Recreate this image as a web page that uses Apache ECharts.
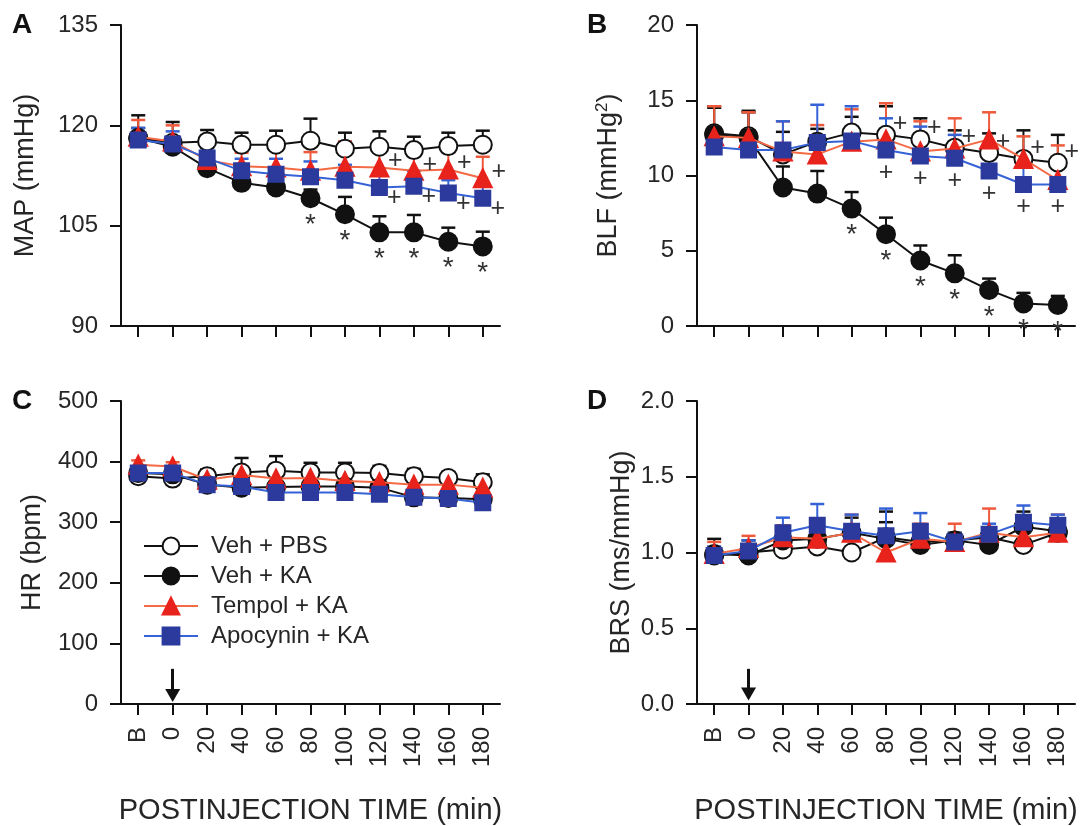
<!DOCTYPE html>
<html><head><meta charset="utf-8">
<script src="https://cdn.jsdelivr.net/npm/echarts@6/dist/echarts.min.js"></script>
<style>html,body{margin:0;padding:0;background:#fff}#c{width:1085px;height:826px}</style>
</head><body><div id="c"></div>
<script>
const categories = ['B','0','20','40','60','80','100','120','140','160','180'];
const seriesNames = ['Veh + PBS','Veh + KA','Tempol + KA','Apocynin + KA'];

// Panel A: MAP (mmHg)
const mapPBS     = [118.1,117.4,117.6,117.1,117.1,117.7,116.5,116.8,116.3,116.9,117.1];
const mapPBSsem  = [3.4,3.1,1.7,1.8,2.1,3.3,2.4,2.3,2.0,2.0,2.1];
const mapKA      = [118.1,116.8,113.6,111.4,110.7,109.1,106.7,104.0,104.0,102.6,101.9];
const mapKAsem   = [1.5,1.5,1.0,1.0,1.0,1.3,2.6,2.4,2.6,2.1,2.2];
const mapTEM     = [118.3,117.6,114.8,113.9,113.7,113.2,113.8,113.7,113.2,113.4,112.1];
const mapTEMsem  = [2.5,2.4,2.6,2.0,2.7,2.8,3.8,3.3,3.8,4.2,3.2];
const mapAPO     = [117.8,117.2,115.1,113.2,112.7,112.3,111.8,110.7,110.9,109.9,109.1];
const mapAPOsem  = [1.8,1.9,1.5,1.8,2.3,2.3,2.3,2.0,2.3,1.9,2.0];
const mapStarKA  = [0,0,0,0,0,1,1,1,1,1,1];
const mapPlusTEM = [0,0,0,0,0,0,0,1,1,1,1];
const mapPlusAPO = [0,0,0,0,0,0,0,1,1,1,1];

// Panel B: BLF (mmHg^2)
const blfPBS     = [12.8,12.6,11.4,12.25,12.85,12.7,12.4,11.85,11.5,11.1,10.85];
const blfPBSsem  = [1.8,1.7,1.5,0.85,1.05,1.9,1.4,1.15,1.3,1.9,1.85];
const blfKA      = [12.7,12.5,9.2,8.8,7.8,6.1,4.35,3.5,2.4,1.5,1.4];
const blfKAsem   = [1.8,1.7,1.4,1.5,1.1,1.1,1.0,1.2,0.75,0.7,0.6];
const blfTEM     = [12.6,12.5,11.6,11.4,12.25,12.4,11.6,11.8,12.4,11.1,9.7];
const blfTEMsem  = [2.0,1.7,2.0,1.95,2.15,2.4,2.0,2.0,1.8,1.5,2.3];
const blfAPO     = [11.9,11.7,11.7,12.2,12.3,11.7,11.3,11.15,10.3,9.4,9.4];
const blfAPOsem  = [1.0,1.3,1.9,2.5,2.3,2.1,1.95,1.55,1.5,1.4,1.4];
const blfStarKA  = [0,0,0,0,1,1,1,1,1,1,1];
const blfPlusPBS = [0,0,0,0,0,1,1,1,1,1,1];
const blfPlusAPO = [0,0,0,0,0,1,1,1,1,1,1];

// Panel C: HR (bpm)
const hrPBS     = [376,372,376,382,385,382,382,381,376,373,366];
const hrPBSsem  = [15,15,11,24,24,16,16,12,12,10,13];
const hrKA      = [381,379,362,357,358,359,359,357,341,340,338];
const hrKAsem   = [8,8,8,8,8,8,8,8,8,8,8];
const hrTEM     = [395,392,370,378,372,373,368,366,362,362,357];
const hrTEMsem  = [7,7,8,9,5,6,6,6,8,8,16];
const hrAPO     = [381,381,362,359,349,349,349,346,341,339,332];
const hrAPOsem  = [8,8,8,8,8,8,8,8,8,8,8];
const hrArrow   = [58, 14];

// Panel D: BRS (ms/mmHg)
const brsPBS    = [0.98,1.0,1.02,1.04,1.0,1.1,1.07,1.08,1.1,1.05,1.13];
const brsPBSsem = [0.03,0.03,0.03,0.03,0.03,0.1,0.03,0.03,0.03,0.03,0.03];
const brsKA     = [0.99,0.98,1.08,1.09,1.13,1.09,1.05,1.08,1.05,1.17,1.14];
const brsKAsem  = [0.1,0.1,0.05,0.05,0.1,0.18,0.05,0.05,0.1,0.1,0.05];
const brsTEM    = [0.99,1.03,1.1,1.09,1.13,1.0,1.09,1.07,1.13,1.1,1.13];
const brsTEMsem = [0.08,0.08,0.08,0.08,0.12,0.12,0.1,0.12,0.16,0.1,0.12];
const brsAPO    = [0.98,1.01,1.13,1.18,1.14,1.11,1.14,1.07,1.12,1.2,1.18];
const brsAPOsem = [0.06,0.07,0.1,0.14,0.11,0.18,0.12,0.06,0.07,0.11,0.07];
const brsArrow  = [0.232, 0.066];

const FONT = "'Liberation Sans', Arial, sans-serif";
const TXT = '#262626';
const AX = '#111';

const styles = [
  {symbol:'circle',   size:18, fill:'#ffffff', border:'#111111', line:'#111111', err:'#111111'},
  {symbol:'circle',   size:18, fill:'#111111', border:'#111111', line:'#111111', err:'#111111'},
  {symbol:'triangle', size:18, fill:'#E8231C', border:'#E8231C', line:'#F36A45', err:'#F05A3C'},
  {symbol:'rect',     size:15, fill:'#2B3A9C', border:'#2B3A9C', line:'#3563D6', err:'#3563D6'}
];

const markStyles = {
  star:      {formatter:'*', position:'inside', offset:[0,27], fontSize:28},
  plusUR:    {formatter:'+', position:'inside', offset:[16,-6], fontSize:25},
  plusDR:    {formatter:'+', position:'inside', offset:[15,11], fontSize:25},
  plusUR2:   {formatter:'+', position:'inside', offset:[14,-11], fontSize:25},
  plusBelow: {formatter:'+', position:'inside', offset:[0,23], fontSize:25}
};

const panels = [
  {grid:{left:121, top:25, width:379, height:301}, y:{min:90, max:135, interval:15, name:'MAP (mmHg)', gap:82},
   means:[mapPBS,mapKA,mapTEM,mapAPO], sems:[mapPBSsem,mapKAsem,mapTEMsem,mapAPOsem],
   marks:[null,[mapStarKA,'star'],[mapPlusTEM,'plusUR'],[mapPlusAPO,'plusDR']], xLabels:false},
  {grid:{left:697, top:25, width:378, height:301}, y:{min:0, max:20, interval:5, name:'BLF (mmHg{s|2})', gap:74},
   means:[blfPBS,blfKA,blfTEM,blfAPO], sems:[blfPBSsem,blfKAsem,blfTEMsem,blfAPOsem],
   marks:[[blfPlusPBS,'plusUR2'],[blfStarKA,'star'],null,[blfPlusAPO,'plusBelow']], xLabels:false},
  {grid:{left:121, top:401, width:379, height:305}, y:{min:0, max:500, interval:100, name:'HR (bpm)', gap:75},
   means:[hrPBS,hrKA,hrTEM,hrAPO], sems:[hrPBSsem,hrKAsem,hrTEMsem,hrAPOsem],
   marks:[null,null,null,null], xLabels:true, arrow:hrArrow},
  {grid:{left:697, top:401, width:378, height:305}, y:{min:0, max:2, interval:0.5, name:'BRS (ms/mmHg)', fmt:v=>v.toFixed(1), gap:62},
   means:[brsPBS,brsKA,brsTEM,brsAPO], sems:[brsPBSsem,brsKAsem,brsTEMsem,brsAPOsem],
   marks:[null,null,null,null], xLabels:true, arrow:brsArrow}
];

const grids = [], xAxes = [], yAxes = [], series = [];

function errRender(color){
  return function(params, api){
    const x = api.value(0), m = api.value(1), t = api.value(2);
    const p0 = api.coord([x, m]), p1 = api.coord([x, t]);
    return {type:'group', children:[
      {type:'line', shape:{x1:p0[0], y1:p0[1], x2:p1[0], y2:p1[1]}, style:{stroke:color, lineWidth:2}},
      {type:'line', shape:{x1:p1[0]-7, y1:p1[1], x2:p1[0]+7, y2:p1[1]}, style:{stroke:color, lineWidth:2.5}}
    ]};
  };
}

panels.forEach((p, pi) => {
  grids.push(p.grid);
  xAxes.push({
    type:'category', gridIndex:pi, data:categories, boundaryGap:true,
    axisLine:{show:true, lineStyle:{color:AX, width:2}},
    axisTick:{show:true, alignWithLabel:true, length:11, inside:false, lineStyle:{color:AX, width:2}},
    axisLabel:{show:p.xLabels, rotate:90, interval:0, margin:23, fontSize:24, color:TXT, fontFamily:FONT},
    splitLine:{show:false},
    name: p.xLabels ? 'POSTINJECTION TIME (min)' : '',
    nameLocation:'middle', nameGap:92,
    nameTextStyle:{fontSize:29, color:TXT, fontFamily:FONT}
  });
  yAxes.push({
    type:'value', gridIndex:pi, min:p.y.min, max:p.y.max, interval:p.y.interval,
    axisLine:{show:true, lineStyle:{color:AX, width:2}},
    axisTick:{show:true, length:11, inside:false, lineStyle:{color:AX, width:2}},
    axisLabel:{show:true, margin:23, fontSize:24, color:TXT, fontFamily:FONT, formatter:p.y.fmt},
    splitLine:{show:false},
    name:p.y.name, nameLocation:'middle', nameGap:p.y.gap, nameRotate:90,
    nameTextStyle:{fontSize:27, color:TXT, fontFamily:FONT,
      rich:{s:{fontSize:17, color:TXT, fontFamily:FONT, verticalAlign:'top', padding:[0,0,12,0]}}}
  });
  p.means.forEach((vals, si) => {
    const st = styles[si];
    series.push({
      type:'custom', xAxisIndex:pi, yAxisIndex:pi, z:1, silent:true,
      renderItem: errRender(st.err),
      encode:{x:0, y:[1,2]},
      data: vals.map((v, i) => [i, v, v + p.sems[si][i]])
    });
  });
  p.means.forEach((vals, si) => {
    const st = styles[si];
    const mk = p.marks[si];
    const data = vals.map((v, i) => {
      if (mk && mk[0][i]) {
        return {value:v, label:Object.assign({show:true, color:'#333', fontFamily:FONT, textBorderWidth:0}, markStyles[mk[1]])};
      }
      return v;
    });
    const s = {
      type:'line', name:seriesNames[si], xAxisIndex:pi, yAxisIndex:pi, z:2 + si,
      data:data, symbol:st.symbol, symbolSize:st.size, showAllSymbol:true,
      lineStyle:{color:st.line, width:2},
      itemStyle:{color:st.fill, borderColor:st.border, borderWidth:2},
      emphasis:{disabled:true},
      animation:false
    };
    if (p.arrow && si === 0) {
      s.markLine = {
        silent:true, animation:false, symbol:['none','triangle'], symbolSize:[15,13],
        lineStyle:{color:'#111', width:3, type:'solid'}, label:{show:false},
        emphasis:{disabled:true},
        data:[[{coord:[1, p.arrow[0]]}, {coord:[1, p.arrow[1]]}]]
      };
    }
    series.push(s);
  });
});

const chart = echarts.init(document.getElementById('c'), null, {renderer:'canvas'});
chart.setOption({
  backgroundColor:'#ffffff',
  animation:false,
  textStyle:{fontFamily:FONT},
  title:[
    {text:'A', left:12, top:11, padding:0, textStyle:{fontSize:28, fontWeight:'bold', color:'#111', fontFamily:FONT}},
    {text:'B', left:587, top:11, padding:0, textStyle:{fontSize:28, fontWeight:'bold', color:'#111', fontFamily:FONT}},
    {text:'C', left:12, top:387, padding:0, textStyle:{fontSize:28, fontWeight:'bold', color:'#111', fontFamily:FONT}},
    {text:'D', left:587, top:387, padding:0, textStyle:{fontSize:28, fontWeight:'bold', color:'#111', fontFamily:FONT}}
  ],
  legend:{
    data:seriesNames, orient:'vertical', left:143, top:534, padding:0,
    itemWidth:54, itemHeight:21, itemGap:6, selectedMode:false,
    textStyle:{fontSize:24, color:TXT, fontFamily:FONT, padding:[0,0,0,8]}
  },
  grid:grids, xAxis:xAxes, yAxis:yAxes, series:series
});
</script></body></html>
